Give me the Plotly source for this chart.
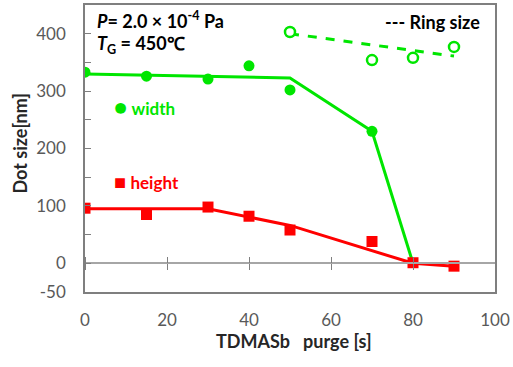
import plotly.graph_objects as go

purge = [0, 15, 30, 40, 50, 70, 80, 90]
width_pts_x = [0, 15, 30, 40, 50, 70]
width_pts = [333, 326, 321, 344, 302, 230]
width_fit_x = [0, 50, 70, 80]
width_fit = [330, 323, 230, 0]
ring_x = [50, 70, 80, 90]
ring_pts = [403, 354, 358, 377]
ring_fit_x = [50, 90]
ring_fit = [400, 361]
height_pts = [96, 85, 98, 82, 58, 38, 1, -5]
height_fit_x = [0, 30, 50, 80, 90]
height_fit = [95, 95, 66, 0, -5]
x_ticks = [0, 20, 40, 60, 80, 100]
y_ticks = [-50, 0, 100, 200, 300, 400]
y_tick_text = ["-50", "0", "100", "200", "300", "400"]

GREEN = "#00E600"
RED = "#FF0000"
FONT = "Lato"
TICKC = "#595959"

fig = go.Figure()
fig.add_trace(go.Scatter(x=width_fit_x, y=width_fit, mode="lines",
                         line=dict(color=GREEN, width=3)))
fig.add_trace(go.Scatter(x=width_pts_x, y=width_pts, mode="markers",
                         marker=dict(color=GREEN, size=11, symbol="circle")))
fig.add_trace(go.Scatter(x=ring_fit_x, y=ring_fit, mode="lines",
                         line=dict(color=GREEN, width=3, dash="dash")))
fig.add_trace(go.Scatter(x=ring_x, y=ring_pts, mode="markers",
                         marker=dict(color="white", size=10, symbol="circle",
                                     line=dict(color=GREEN, width=2.5))))
fig.add_trace(go.Scatter(x=height_fit_x, y=height_fit, mode="lines",
                         line=dict(color=RED, width=3)))
fig.add_trace(go.Scatter(x=purge, y=height_pts, mode="markers",
                         marker=dict(color=RED, size=11, symbol="square")))

# invisible traces to attach crossing axes at y=0
fig.add_trace(go.Scatter(x=[0], y=[0], xaxis="x2", mode="markers",
                         marker=dict(opacity=0), hoverinfo="skip"))
fig.add_trace(go.Scatter(x=[0], y=[0], xaxis="x3", mode="markers",
                         marker=dict(opacity=0), hoverinfo="skip"))

zero_pos = (0 - (-50)) / 500.0

fig.update_layout(
    width=513, height=367,
    margin=dict(l=85, r=18, t=5, b=74.5),
    paper_bgcolor="white", plot_bgcolor="white",
    showlegend=False,
    font=dict(family=FONT, size=17, color=TICKC),
    xaxis=dict(range=[0, 100], tickvals=x_ticks, ticks="", showgrid=False,
               zeroline=False, showline=True, linecolor="#7f7f7f", linewidth=1.5,
               mirror=True, ticklabelstandoff=12, automargin=False,
               tickfont=dict(family=FONT, size=17, color=TICKC)),
    xaxis2=dict(range=[0, 100], overlaying="x", anchor="free", position=zero_pos,
                side="bottom", tickvals=x_ticks, ticks="outside", ticklen=6,
                tickcolor="#7f7f7f", showticklabels=False, showline=True,
                linecolor="#a6a6a6", linewidth=1.5, showgrid=False, zeroline=False,
                automargin=False),
    xaxis3=dict(range=[0, 100], overlaying="x", anchor="free", position=zero_pos,
                side="top", tickvals=x_ticks, ticks="outside", ticklen=6,
                tickcolor="#7f7f7f", showticklabels=False, showline=False,
                showgrid=False, zeroline=False, automargin=False),
    yaxis=dict(range=[-50, 450], tickvals=y_ticks, ticktext=y_tick_text,
               ticks="inside", ticklen=6,
               tickcolor="#7f7f7f", showgrid=False, zeroline=False,
               showline=True, linecolor="#7f7f7f", linewidth=1.5, mirror=True,
               ticklabelstandoff=14, automargin=False,
               minor=dict(dtick=50, tick0=0, ticks="inside", ticklen=6,
                          tickcolor="#7f7f7f"),
               tickfont=dict(family=FONT, size=17, color=TICKC)),
)

fig.add_annotation(x=0.51, y=-0.172, xref="paper", yref="paper", showarrow=False,
                   text="<b>TDMASb   purge [s]</b>", xanchor="center", yanchor="middle",
                   font=dict(family=FONT, size=18, color="#262626"))
fig.add_annotation(x=-0.159, y=0.52, xref="paper", yref="paper", showarrow=False,
                   text="<b>Dot size[nm]</b>", textangle=-90,
                   xanchor="center", yanchor="middle",
                   font=dict(family=FONT, size=18, color="#262626"))

ann_font = dict(family=FONT, size=18, color="black")
fig.add_annotation(x=2.4, y=424, xref="x", yref="y", xanchor="left", showarrow=False,
                   text="<b><i>P</i>= 2.0 × 10<sup>-4</sup> Pa</b>", font=ann_font)
fig.add_annotation(x=2.4, y=381, xref="x", yref="y", xanchor="left", showarrow=False,
                   text="<b><i>T</i><sub>G</sub> = 450℃</b>", font=ann_font)
fig.add_annotation(x=96.8, y=421, xref="x", yref="y", xanchor="right", showarrow=False,
                   text="<b>--- Ring size</b>", font=ann_font)
fig.add_annotation(x=6.6, y=273, xref="x", yref="y", xanchor="left", showarrow=False,
                   text="<span style='font-size:22px'>●</span> <b>width</b>",
                   font=dict(family=FONT, size=17, color=GREEN))
fig.add_annotation(x=6.6, y=144, xref="x", yref="y", xanchor="left", showarrow=False,
                   text="<span style='font-size:20px'>■</span> <b>height</b>",
                   font=dict(family=FONT, size=17, color=RED))

fig.write_html("out.html", config={"displayModeBar": False},
               post_script="document.body.style.margin='0';")
